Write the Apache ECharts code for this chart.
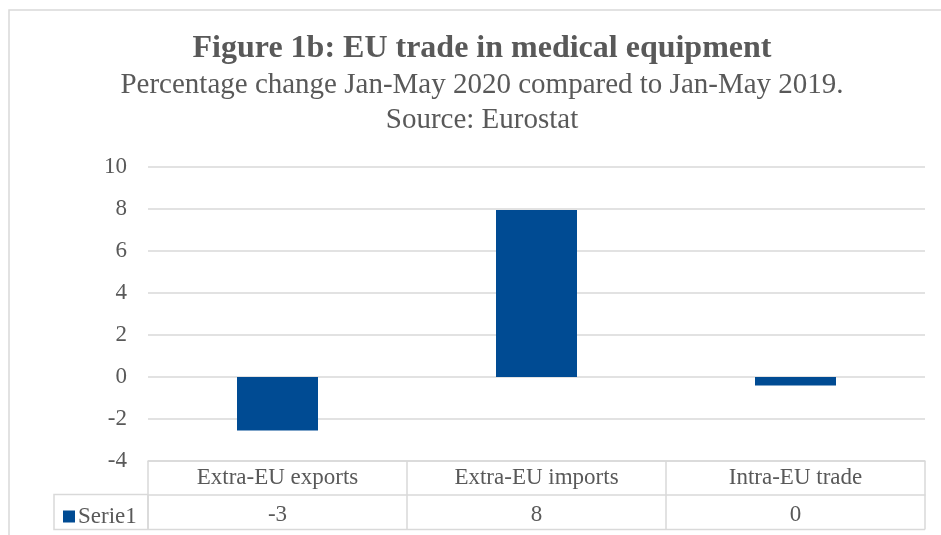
<!DOCTYPE html>
<html>
<head>
<meta charset="utf-8">
<title>EU trade in medical equipment</title>
<script src="https://cdn.jsdelivr.net/npm/echarts@6/dist/echarts.min.js"></script>
<style>
  html, body { margin: 0; padding: 0; background: #ffffff; }
  #chart { width: 941px; height: 535px; }
</style>
</head>
<body>
<div id="chart"></div>
<script>
// Trade flows and their percentage change, Jan-May 2020 vs Jan-May 2019
const categories = ['Extra-EU exports', 'Extra-EU imports', 'Intra-EU trade'];
const seriesName = 'Serie1';
const values = [-2.55, 7.95, -0.4];
const yTicks = { min: -4, max: 10, interval: 2 };

const FONT = 'Liberation Serif, Times New Roman, serif';
const TEXT = '#595959';
const LINE = '#d9d9d9';
const BAR = '#004b93';

// plot area and data table geometry
const gridLeft = 148, gridRight = 16, gridTop = 167, gridBottom = 74;
const rowH = 33.5;          // height of the category row of the table
const row2H = 35;           // height of the value row
const legendCellLeft = 54;  // left edge of the legend cell in the value row
const frameLeft = 9, frameTop = 10;
const titleCenterX = 482;   // horizontal centre of the chart frame's title block

const W = 941, H = 535;
const tableTop = H - gridBottom;
const row2Top = tableTop + rowH;
const row2Bottom = row2Top + row2H;
const gridRightX = W - gridRight;

const chart = echarts.init(document.getElementById('chart'), null, { renderer: 'canvas' });

chart.setOption({
  backgroundColor: '#ffffff',
  animation: false,
  textStyle: { fontFamily: FONT, color: TEXT },
  title: {
    text: 'Figure 1b: EU trade in medical equipment',
    subtext: 'Percentage change Jan-May 2020 compared to Jan-May 2019.\nSource: Eurostat',
    left: titleCenterX - 5,
    textAlign: 'center',
    top: 26,
    itemGap: 1,
    textStyle: { fontFamily: FONT, fontSize: 32, fontWeight: 'bold', color: TEXT, lineHeight: 36 },
    subtextStyle: { fontFamily: FONT, fontSize: 29, color: TEXT, lineHeight: 35 }
  },
  legend: {
    data: [seriesName],
    left: 58,
    top: row2Top + row2H / 2 - 12,
    icon: 'rect',
    itemWidth: 12,
    itemHeight: 12,
    itemGap: 4,
    selectedMode: false,
    textStyle: { fontFamily: FONT, fontSize: 23, color: TEXT, padding: [0, 0, 0, -2] }
  },
  grid: { left: gridLeft, right: gridRight, top: gridTop, bottom: gridBottom, containLabel: false },
  xAxis: [
    {
      // category row of the table
      type: 'category',
      data: categories,
      position: 'bottom',
      axisLine: { onZero: false, show: true, lineStyle: { color: LINE, width: 1.5 } },
      axisTick: { show: true, length: rowH, lineStyle: { color: LINE, width: 1.5 } },
      axisLabel: { fontFamily: FONT, fontSize: 23, color: TEXT, margin: 17, verticalAlign: 'middle', interval: 0 },
      splitLine: { show: false }
    },
    {
      // value row of the table
      type: 'category',
      data: categories,
      position: 'bottom',
      offset: rowH,
      axisLine: { onZero: false, show: true, lineStyle: { color: LINE, width: 1.5 } },
      axisTick: { show: true, length: row2H, lineStyle: { color: LINE, width: 1.5 } },
      axisLabel: {
        fontFamily: FONT, fontSize: 23, color: TEXT, margin: 20, verticalAlign: 'middle', interval: 0,
        formatter: (v, i) => String(Math.round(values[i]) || 0)
      },
      splitLine: { show: false }
    }
  ],
  yAxis: {
    type: 'value',
    min: yTicks.min,
    max: yTicks.max,
    interval: yTicks.interval,
    axisLine: { show: false },
    axisTick: { show: false },
    axisLabel: { fontFamily: FONT, fontSize: 23, color: TEXT, margin: 21 },
    splitLine: { lineStyle: { color: LINE, width: 1.5 } }
  },
  series: [
    {
      name: seriesName,
      type: 'bar',
      xAxisIndex: 0,
      data: values,
      barWidth: 81,
      itemStyle: { color: BAR }
    }
  ],
  graphic: [
    // outer chart frame
    {
      type: 'rect', silent: true, z: -1,
      shape: { x: frameLeft, y: frameTop, width: 1000, height: 600 },
      style: { fill: 'none', stroke: LINE, lineWidth: 1.5 }
    },
    // legend cell borders and bottom edge of the table
    {
      type: 'polyline', silent: true,
      shape: { points: [[gridLeft, row2Top], [legendCellLeft, row2Top], [legendCellLeft, row2Bottom], [gridRightX, row2Bottom]] },
      style: { fill: 'none', stroke: LINE, lineWidth: 1.5 }
    },
    {
      type: 'line', silent: true,
      shape: { x1: gridLeft, y1: row2Top, x2: gridLeft, y2: row2Bottom },
      style: { stroke: LINE, lineWidth: 1.5 }
    }
  ]
});
</script>
</body>
</html>
